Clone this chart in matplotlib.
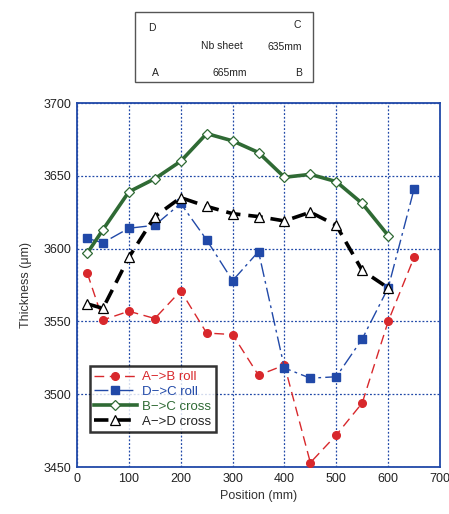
import matplotlib
matplotlib.use("Agg")
import matplotlib.pyplot as plt
from matplotlib.patches import Rectangle

# positions along the sheet (mm)
pos = [20, 50, 100, 150, 200, 250, 300, 350, 400, 450, 500, 550, 600, 650]
pos_cross = pos[:-1]

ab_roll = [3583, 3551, 3557, 3552, 3571, 3542, 3541, 3513, 3520, 3453, 3472, 3494, 3550, 3594]
dc_roll = [3607, 3604, 3614, 3616, 3631, 3606, 3578, 3598, 3518, 3511, 3512, 3538, 3573, 3641]
bc_cross = [3597, 3613, 3639, 3648, 3660, 3679, 3674, 3666, 3649, 3651, 3646, 3631, 3609]
ad_cross = [3562, 3559, 3594, 3622, 3635, 3629, 3624, 3622, 3619, 3625, 3616, 3585, 3573]

RED = "#d8282c"
BLUE = "#2149a8"
GREEN = "#2f6a34"

plt.rcParams["font.family"] = ["Liberation Sans", "DejaVu Sans"]

fig = plt.figure(figsize=(4.49, 5.14), dpi=100)
ax = fig.add_axes([0.1715, 0.0914, 0.8085, 0.7082])

ax.plot(pos, ab_roll, color=RED, lw=1.0, ls=(0, (7, 4)), marker="o", ms=5.5,
        mfc=RED, mec=RED, label="A−>B roll", zorder=3)
ax.plot(pos, dc_roll, color=BLUE, lw=1.0, ls=(0, (10, 3, 2, 3)), marker="s", ms=6,
        mfc=BLUE, mec=BLUE, label="D−>C roll", zorder=3)
ax.plot(pos_cross, bc_cross, color=GREEN, lw=2.6, ls="-", marker="D", ms=5,
        mfc="white", mec=GREEN, mew=0.9, label="B−>C cross", zorder=4)
ax.plot(pos_cross, ad_cross, color="black", lw=2.6, ls=(0, (4, 2.2)), marker="^", ms=6.5,
        mfc="white", mec="black", mew=0.9, label="A−>D cross", zorder=4)

ax.set_xlim(0, 700)
ax.set_ylim(3450, 3700)
ax.set_xticks(range(0, 701, 100))
ax.set_yticks(range(3450, 3701, 50))
ax.grid(True, color=BLUE, ls=(0, (1.5, 1.5)), lw=0.9)
for sp in ax.spines.values():
    sp.set_color(BLUE)
    sp.set_linewidth(1.3)
ax.tick_params(direction="in", length=0, labelsize=9, colors="#222222", pad=4)
ax.set_xlabel("Position (mm)", fontsize=9, color="#333333", labelpad=4)
ax.set_ylabel("Thickness (μm)", fontsize=9, color="#333333", labelpad=8)

leg = ax.legend(loc="lower left", bbox_to_anchor=(0.035, 0.095), fontsize=9.5,
                frameon=True, fancybox=False, handlelength=3.2, handletextpad=0.4,
                borderpad=0.35, labelspacing=0.2, borderaxespad=0)
leg.get_frame().set_edgecolor("black")
leg.get_frame().set_linewidth(1.8)
for txt, c in zip(leg.get_texts(), [RED, BLUE, GREEN, "#222222"]):
    txt.set_color(c)

# sheet sketch above the plot
fig.patches.append(Rectangle((0.3007, 0.8405), 0.396, 0.1362, transform=fig.transFigure,
                             fill=False, edgecolor="#555555", lw=1.0))
sketch = [("D", 0.339, 0.945), ("C", 0.661, 0.952), ("Nb sheet", 0.494, 0.910),
          ("635mm", 0.635, 0.908), ("A", 0.347, 0.858), ("665mm", 0.512, 0.858),
          ("B", 0.664, 0.858)]
for s, x, y in sketch:
    fig.text(x, y, s, fontsize=7.5, ha="center", va="center", color="#222222")

fig.savefig("out.png", dpi=100)
